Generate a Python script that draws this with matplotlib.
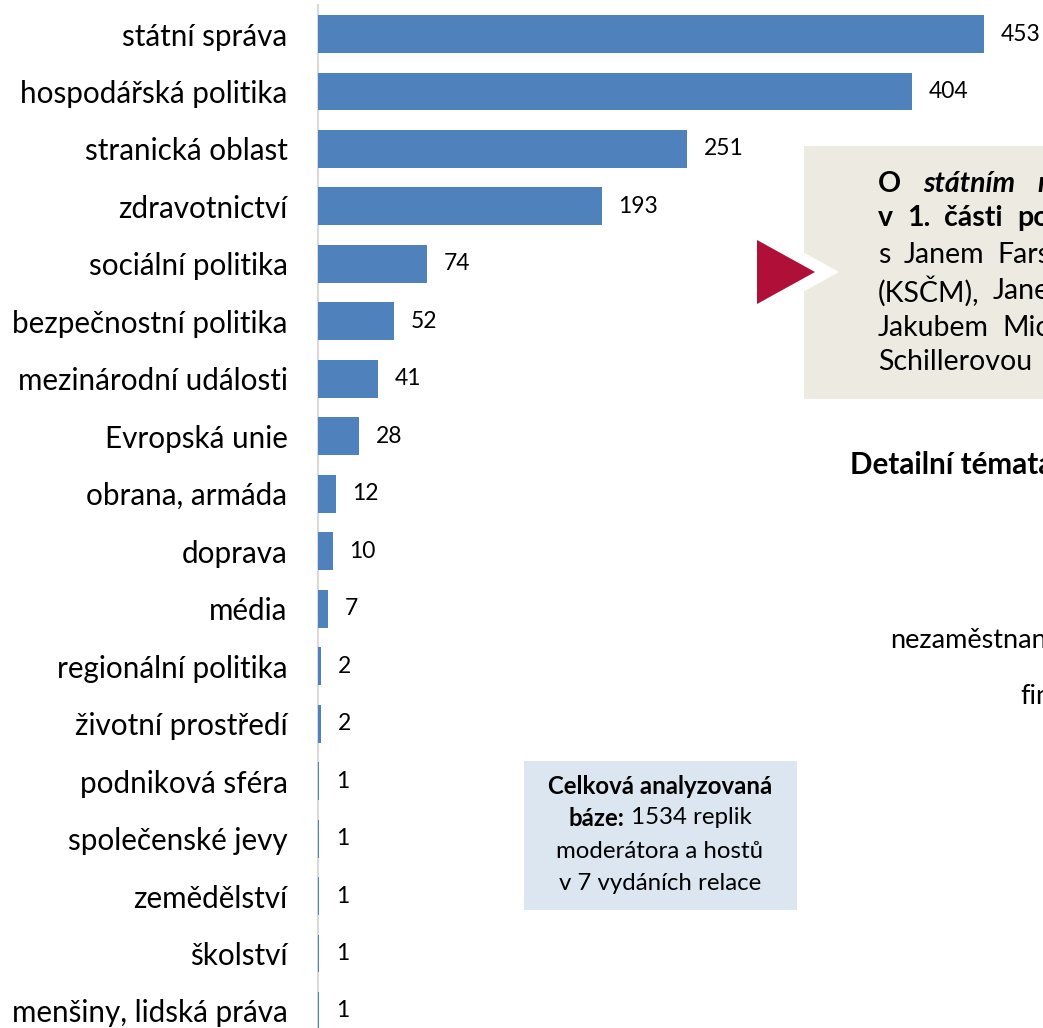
import matplotlib.pyplot as plt
from matplotlib.patches import Rectangle, Polygon

plt.rcParams['font.family'] = ['Lato', 'DejaVu Sans']

# topics of the 1st part of the programme and number of replies
topics = ['státní správa', 'hospodářská politika', 'stranická oblast', 'zdravotnictví',
          'sociální politika', 'bezpečnostní politika', 'mezinárodní události',
          'Evropská unie', 'obrana, armáda', 'doprava', 'média', 'regionální politika',
          'životní prostředí', 'podniková sféra', 'společenské jevy', 'zemědělství',
          'školství', 'menšiny, lidská práva']
counts = [453, 404, 251, 193, 74, 52, 41, 28, 12, 10, 7, 2, 2, 1, 1, 1, 1, 1]

W, H = 1043, 1028
BAR = '#4f81bd'

fig = plt.figure(figsize=(W / 100, H / 100), dpi=100)
ax = fig.add_axes([318 / W, 0, (W - 318) / W, 1])

ypos = list(range(len(topics)))
ax.barh(ypos, counts, height=0.66, color=BAR, zorder=3)
for y, v in zip(ypos, counts):
    ax.annotate(str(v), (v, y), xytext=(12, 0), textcoords='offset points',
                va='center', ha='left', fontsize=16.5, color='#000000')

ax.set_xlim(0, (W - 318) / 1.47)
ax.set_ylim(17.296, -0.592)
ax.set_yticks(ypos)
ax.set_yticklabels(topics, fontsize=21.3)
ax.tick_params(axis='y', length=0, pad=22)
ax.set_xticks([])
for s in ['top', 'right', 'bottom']:
    ax.spines[s].set_visible(False)
ax.spines['left'].set_color('#d9d9d9')
ax.spines['left'].set_linewidth(1.5)
ax.spines['left'].set_bounds(-0.5, 17.3)

renderer = fig.canvas.get_renderer()


def px(x, y):
    return x / W, 1 - y / H


def put_words(x0, y, words, gap, size):
    """Place styled words one after another, starting at pixel x0."""
    x = x0
    for w, weight, style in words:
        t = fig.text(*px(x, y), w, fontsize=size, fontweight=weight, fontstyle=style,
                     va='center', ha='left', zorder=5)
        x = t.get_window_extent(renderer).x1 + gap


def centered_words(xc, y, words, size):
    texts = [fig.text(0, 0, w, fontsize=size, fontweight=wt, va='center', ha='left')
             for w, wt in words]
    widths = [t.get_window_extent(renderer).width for t in texts]
    x = xc - sum(widths) / 2
    for t, wd in zip(texts, widths):
        t.set_position(px(x, y))
        x += wd


# info box with arrow
fig.patches.append(Rectangle(px(804, 399), (W - 804) / W, (399 - 146) / H,
                             transform=fig.transFigure, facecolor='#edebe1',
                             edgecolor='none', zorder=1))
fig.patches.append(Polygon([px(781, 240), px(839, 272), px(781, 304)], closed=True,
                           transform=fig.transFigure, facecolor='white',
                           edgecolor='none', zorder=2))
fig.patches.append(Polygon([px(757, 240), px(815, 272), px(757, 304)], closed=True,
                           transform=fig.transFigure, facecolor='#b01038',
                           edgecolor='none', zorder=3))

bs = 20.5
put_words(878, 184, [('O', 'bold', 'normal'), ('státním', 'bold', 'italic'),
                     ('rozpočtu', 'bold', 'italic')], 22, bs)
put_words(878, 218, [('v', 'bold', 'normal'), ('1.', 'bold', 'normal'),
                     ('části', 'bold', 'normal'), ('pořadu', 'bold', 'normal')], 14, bs)
put_words(878, 255, [('s', 'normal', 'normal'), ('Janem', 'normal', 'normal'),
                     ('Farským', 'normal', 'normal')], 13, bs)
put_words(878, 291, [('(KSČM),', 'normal', 'normal'), ('Janem', 'normal', 'normal')], 13, bs)
put_words(878, 328, [('Jakubem', 'normal', 'normal'), ('Michálkem', 'normal', 'normal')], 13, bs)
put_words(878, 362, [('Schillerovou', 'normal', 'normal')], 13, bs)

# base box
fig.patches.append(Rectangle(px(524, 910), (797 - 524) / W, (910 - 761) / H,
                             transform=fig.transFigure, facecolor='#dce6f1',
                             edgecolor='none', zorder=1))
fs = 17.3
centered_words(660, 787, [('Celková analyzovaná', 'bold')], fs)
centered_words(660, 818, [('báze:', 'bold'), (' 1534 replik', 'normal')], fs)
centered_words(660, 851, [('moderátora a hostů', 'normal')], fs)
centered_words(660, 884, [('v 7 vydáních relace', 'normal')], fs)

# fragments of the neighbouring chart
fig.text(*px(850, 465), 'Detailní témata', fontsize=21.3, fontweight='bold',
         ha='left', va='center')
fig.text(*px(890, 640), 'nezaměstnanost', fontsize=19.5, ha='left', va='center')
fig.text(*px(1020, 697), 'finance', fontsize=19.5, ha='left', va='center')

fig.savefig('out.png', dpi=100)
